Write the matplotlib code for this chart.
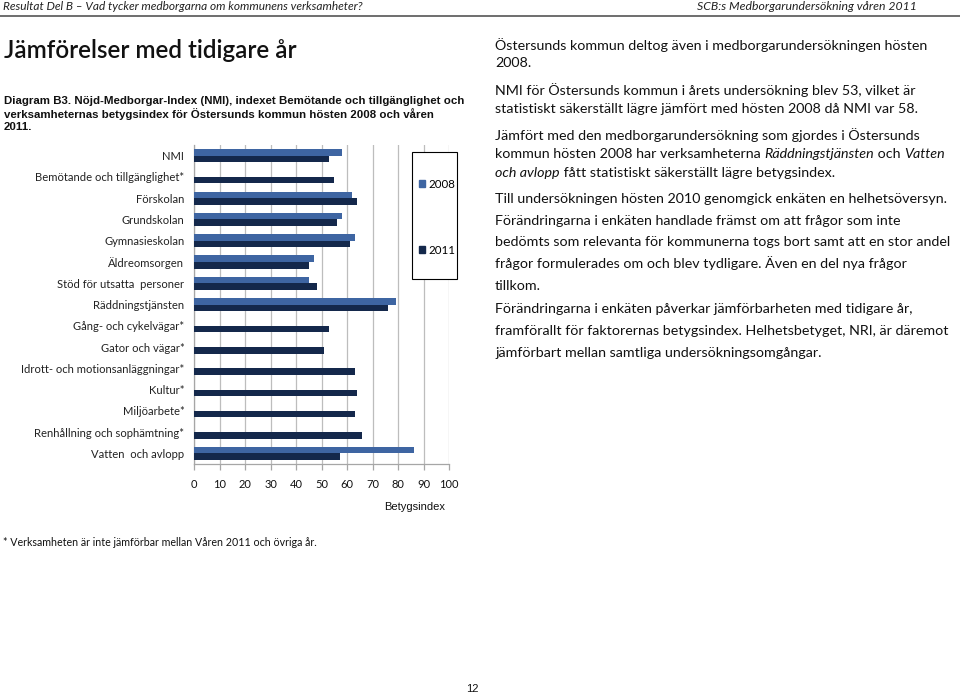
import numpy as np
import matplotlib
matplotlib.use("Agg")
import matplotlib.pyplot as plt
from matplotlib.patches import Rectangle
from matplotlib.lines import Line2D

# Data
categories = ["NMI", "Bemötande och tillgänglighet*", "Förskolan", "Grundskolan",
              "Gymnasieskolan", "Äldreomsorgen", "Stöd för utsatta  personer",
              "Räddningstjänsten", "Gång- och cykelvägar*", "Gator och vägar*",
              "Idrott- och motionsanläggningar*", "Kultur*", "Miljöarbete*",
              "Renhållning och sophämtning*", "Vatten  och avlopp"]
v2008 = [58, np.nan, 62, 58, 63, 47, 45, 79, np.nan, np.nan, np.nan, np.nan, np.nan, np.nan, 86]
v2011 = [53, 55, 64, 56, 61, 45, 48, 76, 53, 51, 63, 64, 63, 66, 57]
series = ["2008", "2011"]
xticks = list(range(0, 101, 10))

c2008 = "#3E65A2"
c2011 = "#14284B"
W, H = 960, 694
body = ["Lato", "DejaVu Sans"]

fig = plt.figure(figsize=(W / 100, H / 100), dpi=100)

def fx(px):
    return px / W

def fy(py):
    return 1 - py / H

ax = fig.add_axes([fx(194), fy(464), fx(449.3) - fx(194), fy(145) - fy(464)])
y = np.arange(len(categories))
h = 0.31
ax.barh(y - h / 2, v2008, height=h, color=c2008, label=series[0], zorder=3)
ax.barh(y + h / 2, v2011, height=h, color=c2011, label=series[1], zorder=3)
ax.set_ylim(len(categories) - 0.5, -0.5)
ax.set_xlim(0, 100)
ax.set_xticks(xticks)
ax.set_yticks(y)
ax.set_yticklabels(categories, family=body, fontsize=8.1, color="#222222")
ax.set_xticklabels([str(t) for t in xticks], family=body, fontsize=8, color="#111111")
ax.grid(axis="x", color="#BDBDBD", lw=0.9, zorder=0)
ax.set_axisbelow(True)
for s in ["top", "right"]:
    ax.spines[s].set_visible(False)
for s in ["left", "bottom"]:
    ax.spines[s].set_color("#A6A6A6")
    ax.spines[s].set_linewidth(0.9)
ax.tick_params(axis="y", length=0, pad=7)
ax.tick_params(axis="x", length=4, color="#A6A6A6", width=0.9, pad=7)

fig.text(fx(414.5), fy(507), "Betygsindex", family="Liberation Sans", fontsize=8,
         ha="center", va="center", color="#111111")

# legend box
fig.patches.append(Rectangle((fx(412), fy(279)), fx(457) - fx(412), fy(152) - fy(279),
                             transform=fig.transFigure, facecolor="white",
                             edgecolor="black", lw=0.8, zorder=2))
handles = [Rectangle((0, 0), 1, 1, color=c2008), Rectangle((0, 0), 1, 1, color=c2011)]
leg = fig.legend(handles, series, loc="upper left", bbox_to_anchor=(fx(419), fy(179)),
                 frameon=False, borderpad=0, borderaxespad=0, labelspacing=4.75,
                 handlelength=0.55, handleheight=0.55, handletextpad=0.3,
                 prop={"family": body, "size": 8.3})
leg.set_zorder(5)

# page header
fig.text(fx(3), fy(7), "Resultat Del B – Vad tycker medborgarna om kommunens verksamheter?",
         family=["Liberation Sans Narrow", "Lato"], style="italic", fontsize=8.6,
         va="center", ha="left", color="#222222")
fig.text(fx(917), fy(7), "SCB:s Medborgarundersökning våren 2011",
         family=["Liberation Sans Narrow", "Lato"], style="italic", fontsize=8.8,
         va="center", ha="right", color="#222222")
fig.add_artist(Line2D([0, 1], [fy(16), fy(16)], color="#555555", lw=1.2))

fig.text(fx(4), fy(50), "Jämförelser med tidigare år", family=body, weight="semibold",
         fontsize=17.5, va="center", ha="left", color="#111111")

cap = ["Diagram B3. Nöjd-Medborgar-Index (NMI), indexet Bemötande och tillgänglighet och",
       "verksamheternas betygsindex för Östersunds kommun hösten 2008 och våren",
       "2011."]
for i, line in enumerate(cap):
    fig.text(fx(4), fy(101 + 13 * i), line, family="Liberation Sans", weight="bold",
             fontsize=8.25, va="center", ha="left", color="#111111")

fig.text(fx(3), fy(543), "* Verksamheten är inte jämförbar mellan Våren 2011 och övriga år.",
         family=body, fontsize=7.65, va="center", ha="left", color="#111111")
fig.text(fx(472), fy(689), "12", family="Liberation Sans", fontsize=8,
         va="center", ha="center", color="#111111")

# right column text, some parts in italics
lines = [
    (45, [("Östersunds kommun deltog även i medborgarundersökningen hösten", "normal")]),
    (63, [("2008.", "normal")]),
    (90, [("NMI för Östersunds kommun i årets undersökning blev 53, vilket är", "normal")]),
    (109, [("statistiskt säkerställt lägre jämfört med hösten 2008 då NMI var 58.", "normal")]),
    (135, [("Jämfört med den medborgarundersökning som gjordes i Östersunds", "normal")]),
    (154, [("kommun hösten 2008 har verksamheterna ", "normal"), ("Räddningstjänsten", "italic"),
           (" och ", "normal"), ("Vatten", "italic")]),
    (173, [("och avlopp", "italic"), (" fått statistiskt säkerställt lägre betygsindex.", "normal")]),
    (199, [("Till undersökningen hösten 2010 genomgick enkäten en helhetsöversyn.", "normal")]),
    (221, [("Förändringarna i enkäten handlade främst om att frågor som inte", "normal")]),
    (242, [("bedömts som relevanta för kommunerna togs bort samt att en stor andel", "normal")]),
    (263, [("frågor formulerades om och blev tydligare. Även en del nya frågor", "normal")]),
    (286, [("tillkom.", "normal")]),
    (309, [("Förändringarna i enkäten påverkar jämförbarheten med tidigare år,", "normal")]),
    (331, [("framförallt för faktorernas betygsindex. Helhetsbetyget, NRI, är däremot", "normal")]),
    (353, [("jämförbart mellan samtliga undersökningsomgångar.", "normal")]),
]
renderer = fig.canvas.get_renderer()
for py, parts in lines:
    x = fx(495)
    for txt, st in parts:
        t = fig.text(x, fy(py), txt, family=body, style=st, fontsize=10.25,
                     va="center", ha="left", color="#111111")
        bb = t.get_window_extent(renderer)
        x = bb.x1 / W

fig.savefig("out.png", dpi=100)
